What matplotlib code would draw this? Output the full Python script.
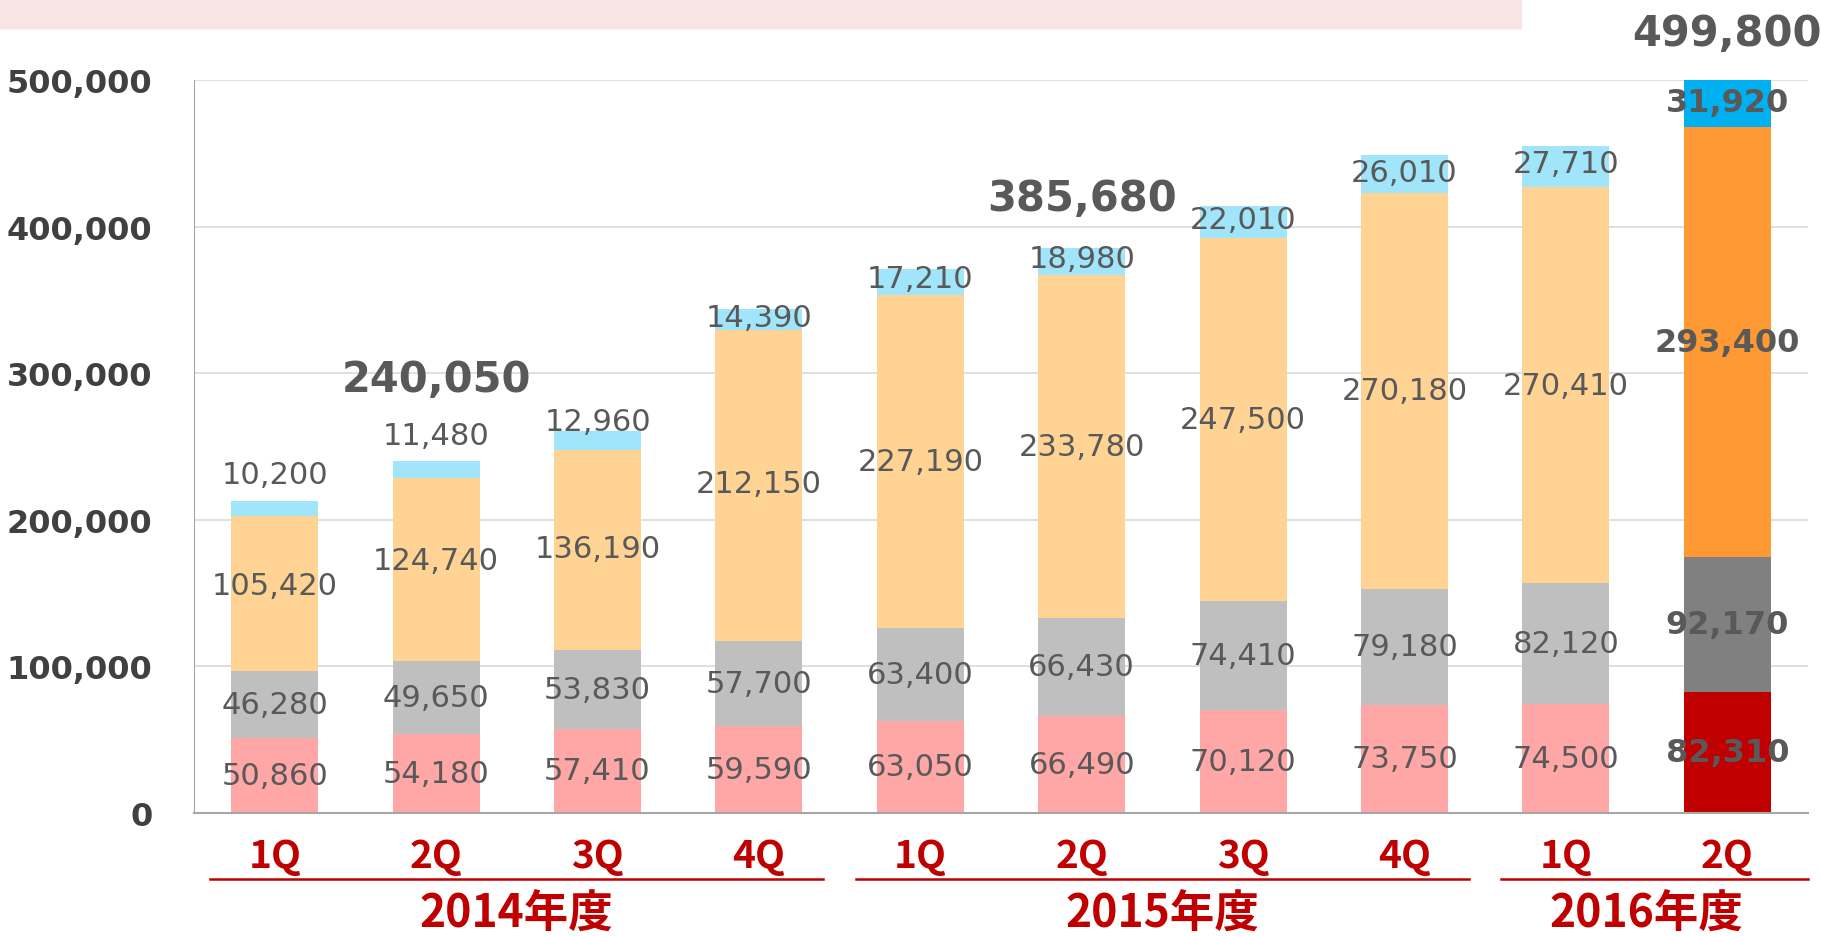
import matplotlib.pyplot as plt
from matplotlib.patches import Rectangle
from matplotlib.lines import Line2D
import numpy as np

plt.rcParams['font.family'] = ['DejaVu Sans']

quarters = ["1Q", "2Q", "3Q", "4Q", "1Q", "2Q", "3Q", "4Q", "1Q", "2Q"]
years = ["2014年度", "2015年度", "2016年度"]
year_groups = [(0, 3), (4, 7), (8, 9)]

# stacked segments, bottom to top
seg_pink = [50860, 54180, 57410, 59590, 63050, 66490, 70120, 73750, 74500, 82310]
seg_gray = [46280, 49650, 53830, 57700, 63400, 66430, 74410, 79180, 82120, 92170]
seg_orange = [105420, 124740, 136190, 212150, 227190, 233780, 247500, 270180, 270410, 293400]
seg_blue = [10200, 11480, 12960, 14390, 17210, 18980, 22010, 26010, 27710, 31920]

# totals shown above some bars
total_idx = [1, 5, 9]

# normal colours / highlighted colours (last bar)
cols_normal = ["#FFA6A6", "#BFBFBF", "#FFD394", "#A0E5FA"]
cols_hi = ["#C00000", "#808080", "#FF9933", "#00B0F0"]

# nudges for label placement (label text shifted by hand in the original)
blue_nudge = [23000, 23500, 13000, 1500, 2500, 2000, 2000, 1000, 2000, 1000]
orange_nudge = [5000, 6000, 1000, 1500, 0, 0, 0, 0, 0, 0]
total_nudge = {1: 56000, 5: 34000, 9: 32000}

RED = "#C00000"
TXT = "#595959"

fig = plt.figure(figsize=(18.21, 9.37), dpi=100)
fig.patches.append(Rectangle((0, 1 - 29 / 937), 1521 / 1821, 29 / 937,
                             transform=fig.transFigure, color="#F9E4E4", zorder=0))

ax = fig.add_axes([194 / 1821, 1 - 814 / 937, (1808 - 194) / 1821, (814 - 81) / 937])

x = np.arange(len(quarters))
segs = [seg_pink, seg_gray, seg_orange, seg_blue]
bottom = np.zeros(len(x))
n = len(x)
for k, s in enumerate(segs):
    colors = [cols_normal[k]] * (n - 1) + [cols_hi[k]]
    ax.bar(x, s, 0.54, bottom=bottom, color=colors, zorder=2)
    for i in range(n):
        yc = bottom[i] + s[i] / 2
        if k == 3:
            yc += blue_nudge[i]
        if k == 2:
            yc += orange_nudge[i]
        last = i == n - 1
        ax.text(x[i], yc, f"{s[i]:,}", ha="center", va="center",
                fontsize=23 if last else 22, color=TXT,
                fontweight="bold" if last else "normal", zorder=3)
    bottom = bottom + np.array(s)

for i in total_idx:
    ax.text(x[i], bottom[i] + total_nudge[i], f"{int(bottom[i]):,}",
            ha="center", va="center", fontsize=30, fontweight="bold",
            color=TXT, clip_on=False, zorder=3)

ax.set_xlim(-0.5, n - 0.5)
ax.set_ylim(0, 500000)
ax.set_yticks(np.arange(0, 500001, 100000))
ax.set_yticklabels([f"{v:,}" for v in range(0, 500001, 100000)],
                   fontsize=23, fontweight="bold", color="#404040")
ax.tick_params(axis="y", length=0, pad=30)
ax.set_xticks([])
ax.grid(axis="y", color="#D9D9D9", linewidth=1.2, zorder=0)
ax.set_axisbelow(True)
for sp in ["top", "right"]:
    ax.spines[sp].set_visible(False)
ax.spines["left"].set_color("#A6A6A6")
ax.spines["bottom"].set_color("#A6A6A6")
ax.spines["bottom"].set_linewidth(1.5)

tr = ax.get_xaxis_transform()
cjk = ["Noto Sans CJK JP", "DejaVu Sans"]
for i, q in enumerate(quarters):
    ax.text(x[i], -0.058, q, transform=tr, ha="center", va="center",
            fontsize=28, fontweight="bold", color=RED, family=cjk, clip_on=False)

for (a, b), yr in zip(year_groups, years):
    x1 = b + 0.5 if b == n - 1 else b + 0.4
    ax.add_line(Line2D([a - 0.4, x1], [-0.090, -0.090], transform=tr,
                       color=RED, linewidth=1.8, clip_on=False))
    ax.text((a + b) / 2, -0.136, yr, transform=tr, ha="center", va="center",
            fontsize=32, fontweight="bold", color=RED, family=cjk, clip_on=False)

fig.savefig("out.png", dpi=100)
